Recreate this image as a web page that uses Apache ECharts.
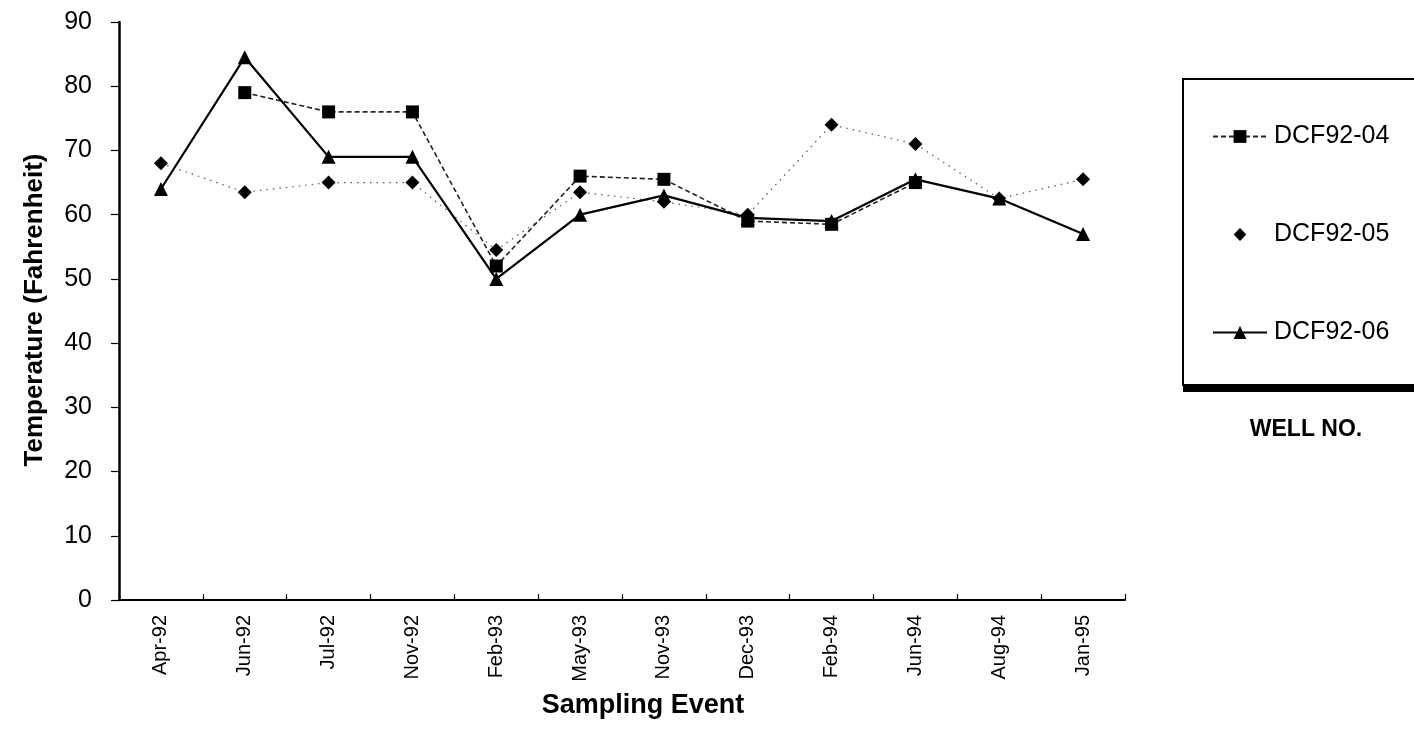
<!DOCTYPE html>
<html>
<head>
<meta charset="utf-8">
<script src="https://cdn.jsdelivr.net/npm/echarts@6/dist/echarts.min.js"></script>
<style>
  html, body { margin: 0; padding: 0; background: #fff; }
  #chart { width: 1414px; height: 750px; }
</style>
</head>
<body>
<div id="chart"></div>
<script>
// Sampling events (x categories)
const samplingEvents = ['Apr-92', 'Jun-92', 'Jul-92', 'Nov-92', 'Feb-93', 'May-93',
                        'Nov-93', 'Dec-93', 'Feb-94', 'Jun-94', 'Aug-94', 'Jan-95'];

// Groundwater temperature (deg F) per well; null = not sampled
const well04 = [null, 79, 76, 76, 52, 66, 65.5, 59, 58.5, 65, null, null];
const well05 = [68, 63.5, 65, 65, 54.5, 63.5, 62, 60, 74, 71, 62.5, 65.5];
const well06 = [64, 84.5, 69, 69, 50, 60, 63, 59.5, 59, 65.5, 62.5, 57];

const wellNames = ['DCF92-04', 'DCF92-05', 'DCF92-06'];

// Temperature axis ticks
const yMin = 0, yMax = 90, yStep = 10;

const FONT = '"Liberation Sans", Arial, Helvetica, sans-serif';

const chart = echarts.init(document.getElementById('chart'), null, { renderer: 'canvas' });

const option = {
  backgroundColor: '#ffffff',
  animation: false,
  grid: { left: 119, right: 289, top: 22, bottom: 150, containLabel: false },
  xAxis: {
    type: 'category',
    data: samplingEvents,
    boundaryGap: true,
    axisLine: { show: true, lineStyle: { color: '#000', width: 2 } },
    axisTick: { show: true, inside: true, length: 6, alignWithLabel: false,
                lineStyle: { color: '#000', width: 1.2 } },
    axisLabel: { rotate: 90, margin: 15, color: '#000', fontSize: 20, fontFamily: FONT },
    splitLine: { show: false }
  },
  yAxis: {
    type: 'value',
    min: yMin, max: yMax, interval: yStep,
    axisLine: { show: true, lineStyle: { color: '#000', width: 2.5 } },
    axisTick: { show: true, inside: false, length: 8, lineStyle: { color: '#000', width: 1.2 } },
    axisLabel: { margin: 27, color: '#000', fontSize: 25, fontFamily: FONT },
    splitLine: { show: false }
  },
  legend: {
    orient: 'vertical',
    left: 1207,
    top: 119,
    itemWidth: 54,
    itemHeight: 16,
    itemGap: 73,
    textStyle: { color: '#000', fontSize: 25, fontFamily: FONT, padding: [0, 0, 0, 2] },
    data: [
      { name: wellNames[0] },
      // this well's connecting line is too faint to show in the key: marker only
      { name: wellNames[1], lineStyle: { opacity: 0, width: 0 } },
      { name: wellNames[2] }
    ]
  },
  graphic: [
    // legend frame with a drop edge along the bottom
    { type: 'rect', z: 0, shape: { x: 1183, y: 84, width: 320, height: 308 },
      style: { fill: '#000' } },
    { type: 'rect', z: 1, shape: { x: 1183, y: 79, width: 320, height: 306 },
      style: { fill: '#fff', stroke: '#000', lineWidth: 2 } },
    { type: 'text', z: 2, x: 1306, y: 430,
      style: { text: 'WELL NO.', fill: '#000', font: 'bold 23px ' + FONT,
               textAlign: 'center', textVerticalAlign: 'middle' } },
    // axis titles
    { type: 'text', z: 2, x: 35, y: 310, rotation: Math.PI / 2,
      style: { text: 'Temperature (Fahrenheit)', fill: '#000', font: 'bold 26px ' + FONT,
               textAlign: 'center', textVerticalAlign: 'middle' } },
    { type: 'text', z: 2, x: 643, y: 706,
      style: { text: 'Sampling Event', fill: '#000', font: 'bold 27px ' + FONT,
               textAlign: 'center', textVerticalAlign: 'middle' } }
  ],
  series: [
    {
      name: wellNames[0],
      type: 'line',
      data: well04,
      connectNulls: false,
      symbol: 'rect',
      symbolSize: 13,
      itemStyle: { color: '#000' },
      lineStyle: { color: '#222', width: 1.6, type: [5, 3] },
      z: 3
    },
    {
      name: wellNames[1],
      type: 'line',
      data: well05,
      symbol: 'diamond',
      symbolSize: 14,
      itemStyle: { color: '#000' },
      lineStyle: { color: '#555', width: 1.2, type: [1.5, 5] },
      z: 2
    },
    {
      name: wellNames[2],
      type: 'line',
      data: well06,
      symbol: 'triangle',
      symbolSize: 14,
      itemStyle: { color: '#000' },
      lineStyle: { color: '#000', width: 2.2, type: 'solid' },
      z: 4
    }
  ]
};

chart.setOption(option);
</script>
</body>
</html>
